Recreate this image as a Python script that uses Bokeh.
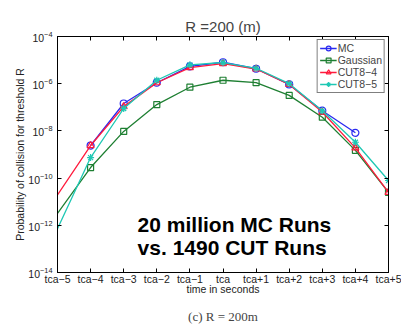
import numpy as np
from bokeh.plotting import figure
from bokeh.models import (FixedTicker, LogTickFormatter, Label, Legend, LegendItem, Title,
                          LogAxis, LinearAxis, Range1d, ColumnDataSource, CustomJSTickFormatter)
from bokeh.embed import file_html
from bokeh.resources import INLINE

# ---- data ----
x_pos = [-5, -4, -3, -2, -1, 0, 1, 2, 3, 4, 5]
tick_labels = ["tca\u22125", "tca\u22124", "tca\u22123", "tca\u22122", "tca\u22121", "tca",
               "tca+1", "tca+2", "tca+3", "tca+4", "tca+5"]
mc = [np.nan, 2.4e-9, 1.45e-7, 1.1e-6, 5.4e-6, 8.1e-6, 4.3e-6, 9.3e-7, 7.2e-8, 8.3e-9, np.nan]
gaussian = [3.2e-12, 2.8e-10, 9.5e-9, 1.3e-7, 7.1e-7, 1.4e-6, 1.1e-6, 3.2e-7, 3.8e-8, 1.5e-9, 2.5e-11]
cut84 = [1.95e-11, 2.4e-9, 1.07e-7, 1.1e-6, 4.8e-6, 7.1e-6, 4.2e-6, 9.3e-7, 6.3e-8, 1.9e-9, 2.5e-11]
cut85 = [7.1e-13, 7.4e-10, 8.9e-8, 1.4e-6, 6.3e-6, 7.9e-6, 4.5e-6, 1.0e-6, 7.1e-8, 3.3e-9, 7.9e-11]
y_ticks = [1e-14, 1e-12, 1e-10, 1e-8, 1e-6, 1e-4]

series = [
    ("MC", mc, "#2a2af0", "circle", 7),
    ("Gaussian", gaussian, "#1e7f32", "square", 6),
    ("CUT8\u22124", cut84, "#ff1a3c", "triangle", 7),
    ("CUT8\u22125", cut85, "#1ec8b4", "asterisk", 7),
]

FONT = "Liberation Sans"

p = figure(frame_width=331, frame_height=236, output_backend="svg", toolbar_location=None,
           y_axis_type="log", x_range=Range1d(-5, 5), y_range=Range1d(1e-14, 1e-4),
           min_border_left=57, min_border_right=13, min_border_top=36, min_border_bottom=58)
p.background_fill_color = "white"
p.border_fill_color = "white"
p.outline_line_color = "black"
p.grid.visible = False

p.title.text = "R =200 (m)"
p.title.align = "center"
p.title.text_font = FONT
p.title.text_font_size = "15px"
p.title.text_font_style = "normal"
p.title.standoff = 3

# axes
p.xaxis.ticker = FixedTicker(ticks=x_pos)
p.xaxis.major_label_overrides = {x: t for x, t in zip(x_pos, tick_labels)}
p.yaxis.ticker = FixedTicker(ticks=y_ticks)
p.yaxis.formatter = LogTickFormatter()
for ax in (p.xaxis[0], p.yaxis[0]):
    ax.major_tick_in = 4
    ax.major_tick_out = 0
    ax.minor_tick_line_color = None
    ax.axis_line_color = "black"
    ax.major_tick_line_color = "black"
    ax.major_label_text_font = FONT
    ax.major_label_text_font_size = "10.5px"
    ax.major_label_text_color = "#222222"
    ax.axis_label_text_font = FONT
    ax.axis_label_text_font_size = "10.5px"
    ax.axis_label_text_font_style = "normal"
    ax.axis_label_text_color = "#222222"
p.xaxis.axis_label = "time in seconds"
p.xaxis.major_label_standoff = 0
p.xaxis.axis_label_standoff = -5
p.yaxis.axis_label = "Probability of collision for threshold R"
p.yaxis.major_label_standoff = 5
p.yaxis.axis_label_standoff = -1

blank = CustomJSTickFormatter(code="return ' '")
right = LogAxis(ticker=FixedTicker(ticks=y_ticks), formatter=blank, major_tick_in=4,
                major_tick_out=0, minor_tick_line_color=None, major_label_text_font_size="1px",
                major_label_text_color=None, major_label_standoff=0, axis_label_standoff=0)
top = LinearAxis(ticker=FixedTicker(ticks=x_pos), formatter=blank, major_tick_in=4,
                 major_tick_out=0, minor_tick_line_color=None, major_label_text_font_size="1px",
                 major_label_text_color=None, major_label_standoff=0, axis_label_standoff=0)
p.add_layout(right, "right")
p.add_layout(top, "above")

caption = Title(text="(c) R = 200m", align="center", text_font="Liberation Serif",
                text_font_size="13px", text_font_style="normal", offset=-8, standoff=19)
p.add_layout(caption, "below")

items = []
for name, vals, color, marker, size in series:
    src = ColumnDataSource(dict(x=x_pos, y=vals))
    ln = p.line("x", "y", source=src, line_color=color, line_width=1.3)
    msrc = ColumnDataSource(dict(x=x_pos[1:], y=vals[1:]))
    sc = p.scatter("x", "y", source=msrc, marker=marker, size=size, line_color=color,
                   fill_alpha=0, line_width=1.2)
    items.append(LegendItem(label=name, renderers=[ln, sc]))

legend = Legend(items=items, location="top_right", margin=3, padding=2, spacing=0,
                glyph_height=12, glyph_width=17, label_height=12, label_standoff=1,
                label_text_font=FONT, label_text_font_size="10.5px",
                border_line_color="black", border_line_width=1,
                background_fill_alpha=1)
p.add_layout(legend)

# annotation inside the axes
p.add_layout(Label(x=-2.58, y=10 ** -11.95, text="20 million MC Runs", text_align="left",
                   text_baseline="alphabetic", text_font=FONT, text_font_size="21px",
                   text_font_style="bold", text_color="black"))
p.add_layout(Label(x=-2.58, y=10 ** -12.93, text="vs. 1490 CUT Runs", text_align="left",
                   text_baseline="alphabetic", text_font=FONT, text_font_size="21px",
                   text_font_style="bold", text_color="black"))

open("out.html", "w").write(file_html(p, INLINE))
